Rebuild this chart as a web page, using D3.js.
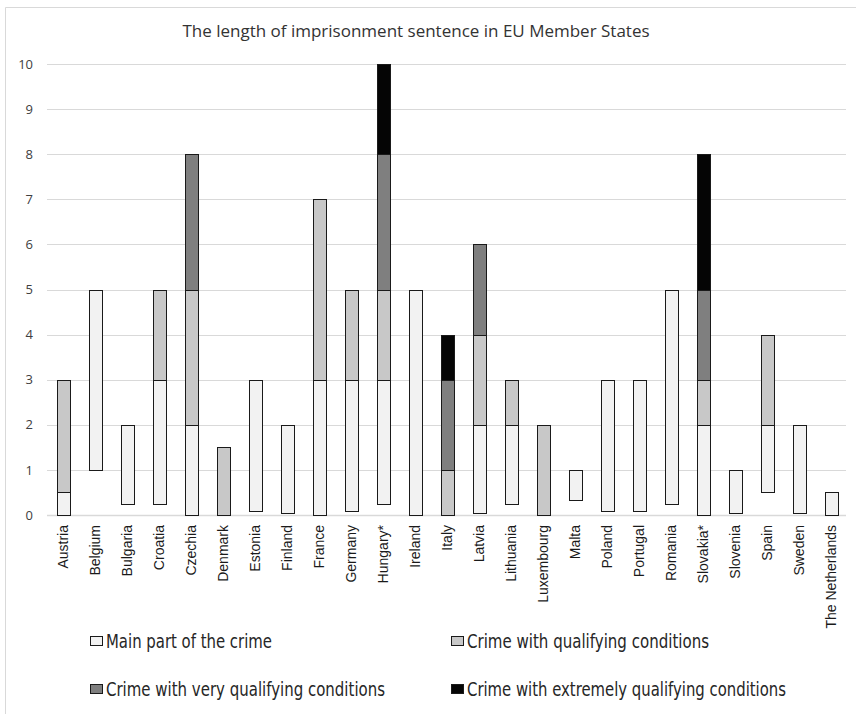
<!DOCTYPE html>
<html lang="en">
<head>
  <meta charset="UTF-8">
  <title>The length of imprisonment sentence in EU Member States</title>
  <script src="https://d3js.org/d3.v7.min.js"></script>
  <style>
    body {
      margin: 0;
      background: #fff;
    }
    svg {
      display: block;
    }
  </style>
</head>
<body>

<svg id="chart" width="856" height="714"></svg>

<script>
// Data (years)
const countries = ["Austria", "Belgium", "Bulgaria", "Croatia", "Czechia", "Denmark", "Estonia",
  "Finland", "France", "Germany", "Hungary*", "Ireland", "Italy", "Latvia", "Lithuania",
  "Luxembourg", "Malta", "Poland", "Portugal", "Romania", "Slovakia*", "Slovenia", "Spain",
  "Sweden", "The Netherlands"];
// minimum sentence (where the bar starts)
const startValues = [0, 1, 0.25, 0.25, 0, 0, 0.08, 0.04, 0, 0.08, 0.25, 0, 0, 0.04, 0.25,
  0, 0.33, 0.08, 0.08, 0.25, 0, 0.04, 0.5, 0.04, 0];
const mainPart = [0.5, 4, 1.75, 2.75, 2, 0, 2.92, 1.96, 3, 2.92, 2.75, 5, 0, 1.96, 1.75,
  0, 0.67, 2.92, 2.92, 4.75, 2, 0.96, 1.5, 1.96, 0.5];
const qualifying = [2.5, 0, 0, 2, 3, 1.5, 0, 0, 4, 2, 2, 0, 1, 2, 1,
  2, 0, 0, 0, 0, 1, 0, 2, 0, 0];
const veryQualifying = [0, 0, 0, 0, 3, 0, 0, 0, 0, 0, 3, 0, 2, 2, 0,
  0, 0, 0, 0, 0, 2, 0, 0, 0, 0];
const extremelyQualifying = [0, 0, 0, 0, 0, 0, 0, 0, 0, 0, 2, 0, 1, 0, 0,
  0, 0, 0, 0, 0, 3, 0, 0, 0, 0];
const seriesNames = ["Main part of the crime", "Crime with qualifying conditions",
  "Crime with very qualifying conditions", "Crime with extremely qualifying conditions"];
const yTicks = [0, 1, 2, 3, 4, 5, 6, 7, 8, 9, 10];

const colors = ["#f2f2f2", "#c8c8c8", "#7f7f7f", "#050505"];

const svg = d3.select("#chart");

// chart area border (left and top visible)
svg.append("line")
  .attr("x1", 5.5).attr("x2", 5.5).attr("y1", 7.5).attr("y2", 714)
  .attr("stroke", "#d9d9d9");
svg.append("line")
  .attr("x1", 5.5).attr("x2", 856).attr("y1", 7.5).attr("y2", 7.5)
  .attr("stroke", "#d9d9d9");

// title
svg.append("text")
  .attr("x", 416)
  .attr("y", 37)
  .attr("text-anchor", "middle")
  .attr("font-family", "'Open Sans', sans-serif")
  .attr("font-size", 17)
  .attr("fill", "#333")
  .text("The length of imprisonment sentence in EU Member States");

// scales
const x = d3.scaleBand()
  .domain(countries)
  .range([47, 847])
  .paddingInner(0.6)
  .paddingOuter(0.3);

const y = d3.scaleLinear()
  .domain([0, 10])
  .range([515, 64]);

// gridlines
svg.append("g")
  .selectAll("line")
  .data(yTicks)
  .join("line")
  .attr("x1", 47).attr("x2", 846)
  .attr("y1", d => Math.round(y(d)) + 0.5)
  .attr("y2", d => Math.round(y(d)) + 0.5)
  .attr("stroke", "#d9d9d9")
  .attr("stroke-width", d => d === 0 ? 1.5 : 1);

// y axis labels
const yAxis = svg.append("g")
  .attr("transform", "translate(47,0)")
  .call(d3.axisLeft(y).tickValues(yTicks).tickSize(0).tickPadding(14));
yAxis.select(".domain").remove();
yAxis.selectAll("text")
  .attr("font-family", "'Open Sans', sans-serif")
  .attr("font-size", 13)
  .attr("fill", "#404040");

// stacked floating bars
const segments = [];
countries.forEach((c, i) => {
  let lo = startValues[i];
  [mainPart[i], qualifying[i], veryQualifying[i], extremelyQualifying[i]].forEach((v, s) => {
    if (v > 0) {
      segments.push({country: c, series: s, y0: lo, y1: lo + v});
      lo += v;
    }
  });
});

svg.append("g")
  .selectAll("rect")
  .data(segments)
  .join("rect")
  .attr("x", d => Math.round(x(d.country)) + 0.5)
  .attr("width", Math.round(x.bandwidth()))
  .attr("y", d => Math.round(y(d.y1)) + 0.5)
  .attr("height", d => Math.round(y(d.y0)) - Math.round(y(d.y1)))
  .attr("fill", d => colors[d.series])
  .attr("stroke", "#1a1a1a")
  .attr("stroke-width", 1);

// x axis labels (rotated)
const xAxis = svg.append("g")
  .attr("transform", "translate(0,515)")
  .call(d3.axisBottom(x).tickSize(0).tickPadding(0));
xAxis.select(".domain").remove();
xAxis.selectAll("text")
  .attr("font-family", "'Liberation Sans', Arial, sans-serif")
  .attr("font-size", 14)
  .attr("fill", "#1a1a1a")
  .attr("text-anchor", "end")
  .attr("dy", "0.35em")
  .attr("transform", "translate(0,10) rotate(-90)")
  .attr("x", 0)
  .attr("y", 0);

// legend
const legendPos = [
  {x: 90, y: 641, w: 166},
  {x: 451, y: 641, w: 242},
  {x: 90, y: 689, w: 279},
  {x: 451, y: 689, w: 319}
];
const legend = svg.append("g")
  .selectAll("g")
  .data(seriesNames)
  .join("g")
  .attr("transform", (d, i) => `translate(${legendPos[i].x},${legendPos[i].y})`);

legend.append("rect")
  .attr("x", 0.5).attr("y", -4.5)
  .attr("width", 12).attr("height", 9)
  .attr("fill", (d, i) => colors[i])
  .attr("stroke", "#1a1a1a");

legend.append("text")
  .attr("x", 16)
  .attr("y", 0)
  .attr("dy", "0.36em")
  .attr("font-family", "'Liberation Sans Narrow', 'DejaVu Sans Condensed', sans-serif")
  .attr("font-size", 19)
  .attr("fill", "#262626")
  .attr("textLength", (d, i) => legendPos[i].w)
  .attr("lengthAdjust", "spacingAndGlyphs")
  .text(d => d);
</script>

</body>
</html>
